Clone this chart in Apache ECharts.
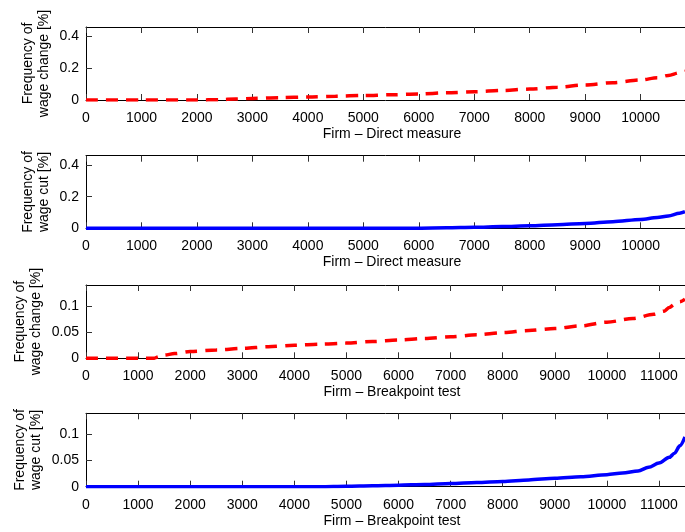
<!DOCTYPE html>
<html>
<head>
<meta charset="utf-8">
<script src="https://cdn.jsdelivr.net/npm/echarts@6/dist/echarts.min.js"></script>
<style>html,body{margin:0;padding:0;background:#fff}#c{width:685px;height:532px}</style>
</head>
<body>
<div id="c"></div>
<script>
// Panel 1: Direct measure, frequency of wage change (red dashed)
const xChangeDirect = [0, 1000, 2000, 2400, 2700, 3000, 3500, 4000, 4500, 5000, 5500, 6000, 6500, 7000, 7500, 8000, 8500, 9000, 9500, 10000, 10300, 10500, 10700, 10800];
const yChangeDirect = [0, 0, 0, 0.002, 0.006, 0.010, 0.015, 0.019, 0.024, 0.028, 0.033, 0.038, 0.045, 0.052, 0.060, 0.069, 0.081, 0.095, 0.109, 0.126, 0.140, 0.155, 0.172, 0.182];
// Panel 2: Direct measure, frequency of wage cut (blue)
const xCutDirect = [0, 5500, 6000, 6500, 7000, 7500, 8000, 8500, 9000, 9500, 10000, 10300, 10500, 10700, 10800];
const yCutDirect = [0, 0, 0.001, 0.003, 0.006, 0.011, 0.016, 0.023, 0.031, 0.042, 0.056, 0.068, 0.078, 0.095, 0.105];
// Panel 3: Breakpoint test, frequency of wage change (red dashed)
const xChangeBreak = [0, 1000, 1300, 1400, 1500, 1700, 2000, 2500, 3000, 3500, 4000, 4500, 5000, 5500, 6000, 6500, 7000, 7500, 8000, 8500, 9000, 9500, 10000, 10500, 10900, 11100, 11200, 11300, 11400, 11500];
const yChangeBreak = [0, 0, 0, 0.003, 0.006, 0.009, 0.013, 0.016, 0.019, 0.022, 0.025, 0.027, 0.029, 0.032, 0.035, 0.038, 0.041, 0.045, 0.049, 0.053, 0.057, 0.062, 0.069, 0.076, 0.084, 0.090, 0.097, 0.103, 0.108, 0.113];
// Panel 4: Breakpoint test, frequency of wage cut (blue)
const xCutBreak = [0, 4500, 5000, 5500, 6000, 6500, 7000, 7500, 8000, 8500, 9000, 9500, 10000, 10300, 10600, 10800, 11000, 11200, 11300, 11400, 11500];
const yCutBreak = [0, 0, 0.001, 0.002, 0.003, 0.004, 0.006, 0.008, 0.010, 0.013, 0.016, 0.019, 0.023, 0.026, 0.030, 0.037, 0.045, 0.056, 0.064, 0.078, 0.095];

const yLabels = ['Frequency of\nwage change [%]', 'Frequency of\nwage cut [%]', 'Frequency of\nwage change [%]', 'Frequency of\nwage cut [%]'];
const xLabels = ['Firm \u2013 Direct measure', 'Firm \u2013 Direct measure', 'Firm \u2013 Breakpoint test', 'Firm \u2013 Breakpoint test'];
const xMax = [10800, 10800, 11500, 11500];
const yMax = [0.46, 0.46, 0.14, 0.14];
const yInterval = [0.2, 0.2, 0.05, 0.05];

const panels = [
  {x: xChangeDirect, y: yChangeDirect, color: '#ff0000', dashed: true},
  {x: xCutDirect, y: yCutDirect, color: '#0000ff', dashed: false},
  {x: xChangeBreak, y: yChangeBreak, color: '#ff0000', dashed: true},
  {x: xCutBreak, y: yCutBreak, color: '#0000ff', dashed: false}
];

const tops = [27, 155.7, 285, 413.3];
const heights = [73, 72.6, 73.3, 73.4];
const yNameGaps = [34, 34, 42, 42];
const FONT = 'Liberation Sans, Arial, Helvetica, sans-serif';
const fmt = v => String(Math.round(v * 10000) / 10000);

const grid = [], xAxis = [], yAxis = [], series = [];
panels.forEach((p, i) => {
  grid.push({left: 86, top: tops[i], width: 603, height: heights[i], containLabel: false});
  xAxis.push({
    type: 'value', gridIndex: i, position: 'bottom', min: 0, max: xMax[i], interval: 1000,
    axisLine: {show: true, onZero: false, lineStyle: {color: '#000', width: 1}},
    axisTick: {show: true, inside: true, length: 6, lineStyle: {color: '#333', width: 1}},
    axisLabel: {show: true, color: '#000', fontSize: 14, fontFamily: FONT, margin: 11, showMaxLabel: false, formatter: fmt},
    splitLine: {show: false},
    name: xLabels[i], nameLocation: 'middle', nameGap: 27, nameMoveOverlap: false,
    nameTextStyle: {color: '#000', fontSize: 14, fontFamily: FONT, padding: [0, 0, 0, 13]}
  });
  xAxis.push({
    type: 'value', gridIndex: i, position: 'top', min: 0, max: xMax[i], interval: 1000,
    axisLine: {show: true, onZero: false, lineStyle: {color: '#000', width: 1}},
    axisTick: {show: true, inside: true, length: 6, lineStyle: {color: '#333', width: 1}},
    axisLabel: {show: false}, splitLine: {show: false}
  });
  yAxis.push({
    type: 'value', gridIndex: i, min: 0, max: yMax[i], interval: yInterval[i],
    axisLine: {show: true, onZero: false, lineStyle: {color: '#000', width: 1}},
    axisTick: {show: true, inside: true, length: 6, lineStyle: {color: '#333', width: 1}},
    axisLabel: {show: true, color: '#000', fontSize: 14, fontFamily: FONT, margin: 7, showMaxLabel: false, formatter: fmt},
    splitLine: {show: false},
    name: yLabels[i], nameLocation: 'middle', nameGap: yNameGaps[i], nameRotate: 90, nameMoveOverlap: false,
    nameTextStyle: {color: '#000', fontSize: 14, fontFamily: FONT, lineHeight: 16, align: 'center'}
  });
  series.push({
    type: 'line', xAxisIndex: 2 * i, yAxisIndex: i,
    data: p.x.map((v, k) => [v, p.y[k]]),
    showSymbol: false, smooth: 0.3, smoothMonotone: 'x',
    lineStyle: {color: p.color, width: 3.5, type: p.dashed ? [12, 8] : 'solid', cap: 'butt'},
    itemStyle: {color: p.color},
    animation: false
  });
});

const chart = echarts.init(document.getElementById('c'), null, {renderer: 'canvas'});
chart.setOption({animation: false, backgroundColor: '#fff', grid, xAxis, yAxis, series});
</script>
</body>
</html>
